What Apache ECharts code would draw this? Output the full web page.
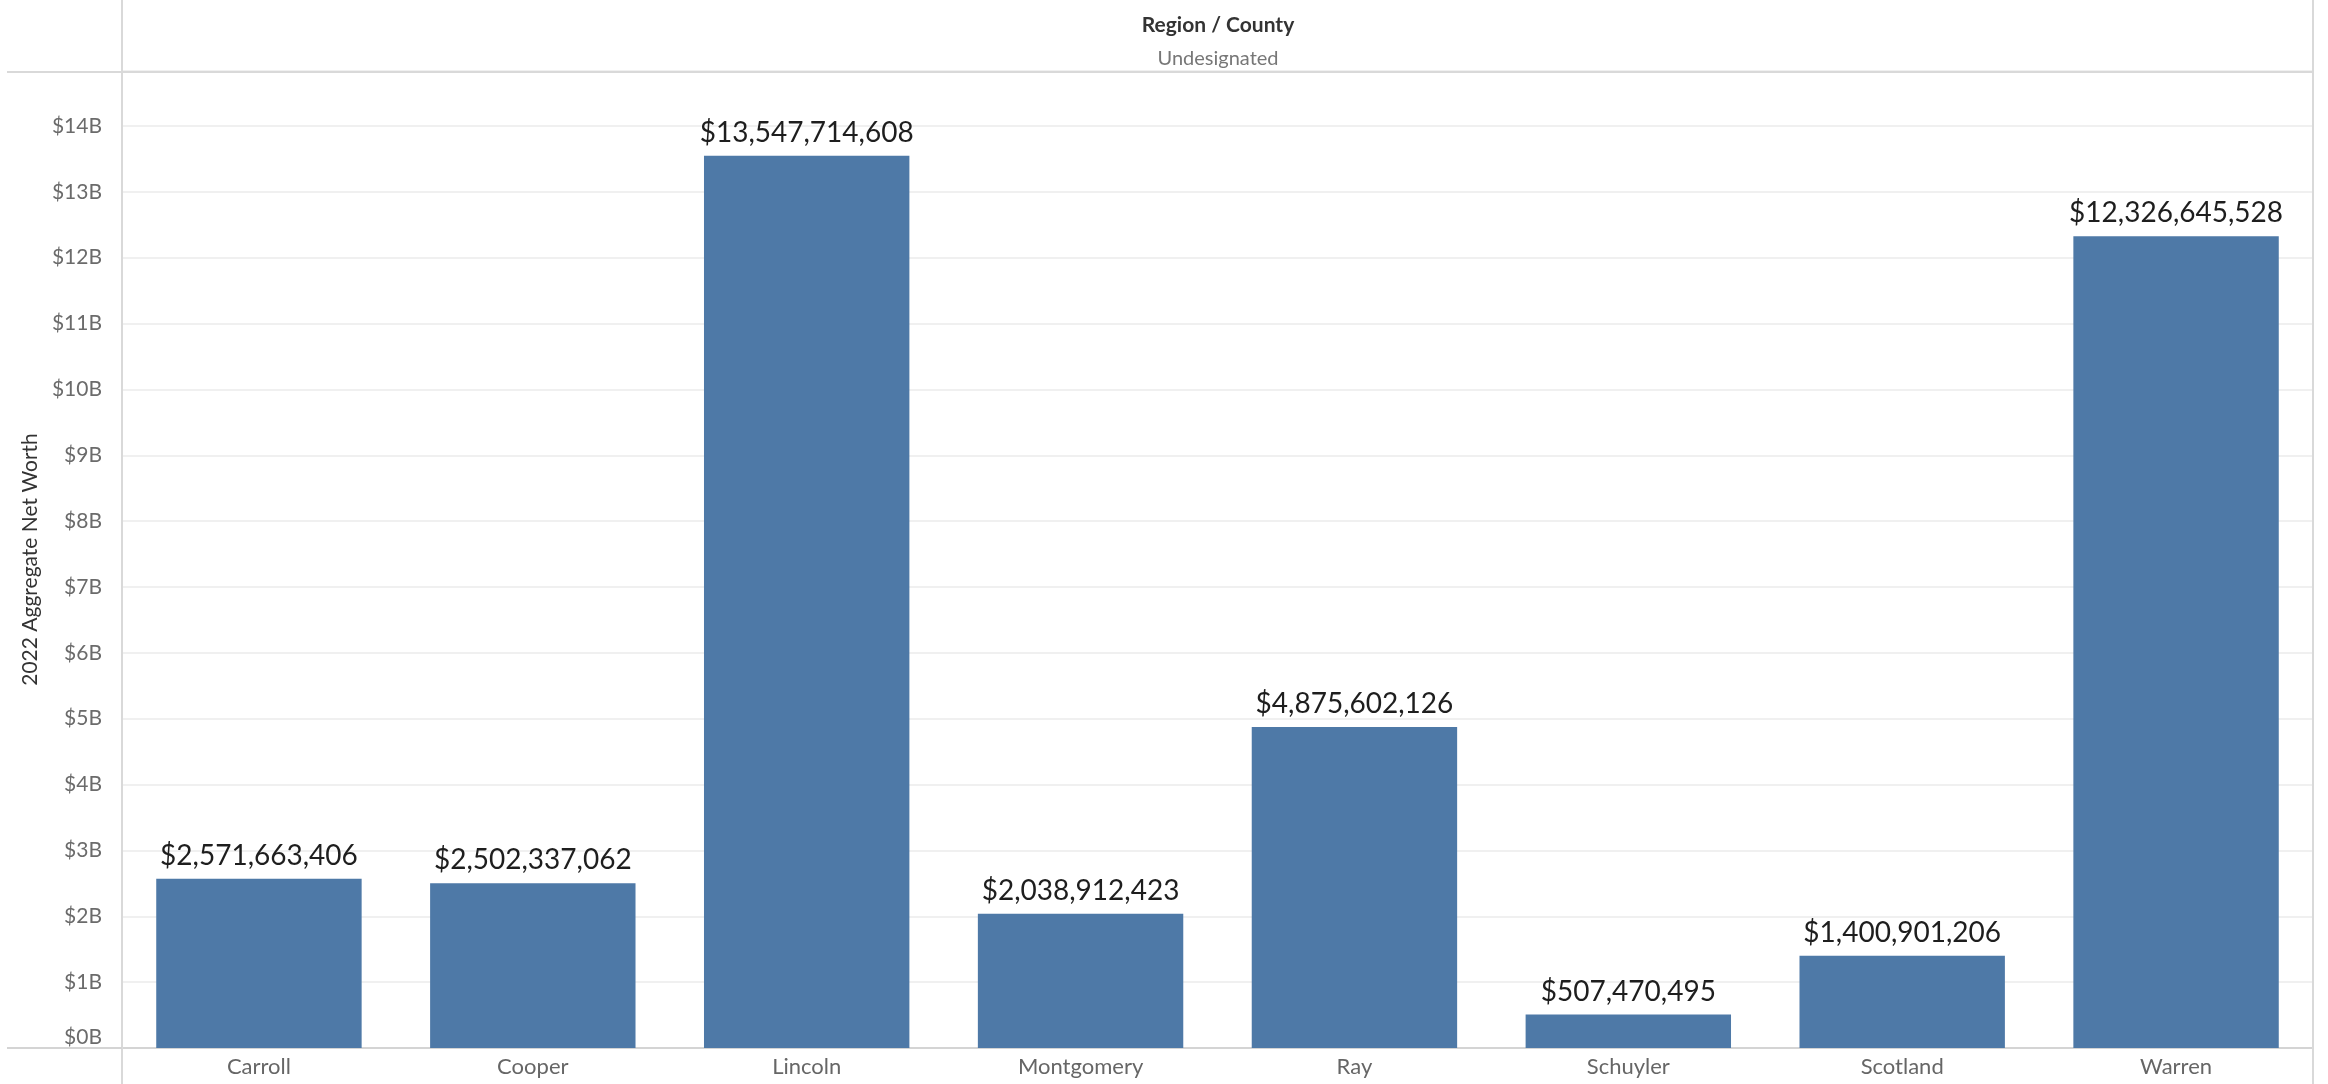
<!DOCTYPE html>
<html>
<head>
<meta charset="utf-8">
<script src="https://cdn.jsdelivr.net/npm/echarts@6/dist/echarts.min.js"></script>
<style>
html,body{margin:0;padding:0;background:#fff;}
#chart{width:2328px;height:1084px;}
</style>
</head>
<body>
<div id="chart"></div>
<script>
const categories = ['Carroll','Cooper','Lincoln','Montgomery','Ray','Schuyler','Scotland','Warren'];
const netWorth = [2571663406, 2502337062, 13547714608, 2038912423, 4875602126, 507470495, 1400901206, 12326645528];
const headerTitle = 'Region / County';
const headerSub = 'Undesignated';
const yAxisTitle = '2022 Aggregate Net Worth';

const FONT = 'Lato, "Open Sans", sans-serif';
const chart = echarts.init(document.getElementById('chart'));

function fmtDollar(v){
  return '$' + Math.round(v).toString().replace(/\B(?=(\d{3})+(?!\d))/g, ',');
}

chart.setOption({
  animation: false,
  backgroundColor: '#ffffff',
  grid: { left: 122, right: 15, top: 71, bottom: 36, containLabel: false },
  xAxis: {
    type: 'category',
    data: categories,
    axisLine: { show: true, lineStyle: { color: '#d4d4d4', width: 2 } },
    axisTick: { show: false },
    axisLabel: { color: '#666666', fontSize: 22, fontFamily: FONT, margin: 8 },
    splitLine: { show: false }
  },
  yAxis: {
    type: 'value',
    min: 0,
    max: 14.835e9,
    interval: 1e9,
    name: yAxisTitle,
    nameLocation: 'middle',
    nameGap: 76,
    nameTextStyle: { color: '#333333', fontSize: 21, fontFamily: FONT },
    axisLine: { show: false },
    axisTick: { show: false },
    axisLabel: {
      color: '#6b6b6b', fontSize: 21, fontFamily: FONT, margin: 20,
      showMaxLabel: false,
      formatter: function(v){
        const s = '$' + Math.round(v/1e9) + 'B';
        return v === 0 ? '{z|' + s + '}' : s;
      },
      rich: { z: { color: '#6b6b6b', fontSize: 21, fontFamily: FONT, padding: [0, 0, 22, 0] } }
    },
    splitLine: { show: true, lineStyle: { color: '#f0f0f0', width: 2 } }
  },
  series: [{
    type: 'bar',
    data: netWorth,
    barWidth: '75%',
    itemStyle: { color: '#4e79a7' },
    label: {
      show: true,
      position: 'top',
      distance: 9,
      color: '#1e1e1e',
      fontSize: 28,
      fontFamily: FONT,
      formatter: function(p){ return fmtDollar(p.value); }
    }
  }],
  graphic: [
    { type: 'line', shape: { x1: 122, y1: 0, x2: 122, y2: 1084 }, style: { stroke: '#d9d9d9', lineWidth: 2 }, z: 10 },
    { type: 'line', shape: { x1: 2313, y1: 0, x2: 2313, y2: 1084 }, style: { stroke: '#d9d9d9', lineWidth: 2 }, z: 10 },
    { type: 'line', shape: { x1: 7, y1: 72, x2: 2313, y2: 72 }, style: { stroke: '#d9d9d9', lineWidth: 2 }, z: 10 },
    { type: 'line', shape: { x1: 7, y1: 1048, x2: 122, y2: 1048 }, style: { stroke: '#d4d4d4', lineWidth: 2 }, z: 10 },
    { type: 'text', x: 1218, y: 25, style: { text: headerTitle, fill: '#333333', font: 'bold 21px ' + FONT, textAlign: 'center', textVerticalAlign: 'middle' }, z: 10 },
    { type: 'text', x: 1218, y: 59, style: { text: headerSub, fill: '#777777', font: '20px ' + FONT, textAlign: 'center', textVerticalAlign: 'middle' }, z: 10 }
  ]
});
</script>
</body>
</html>
